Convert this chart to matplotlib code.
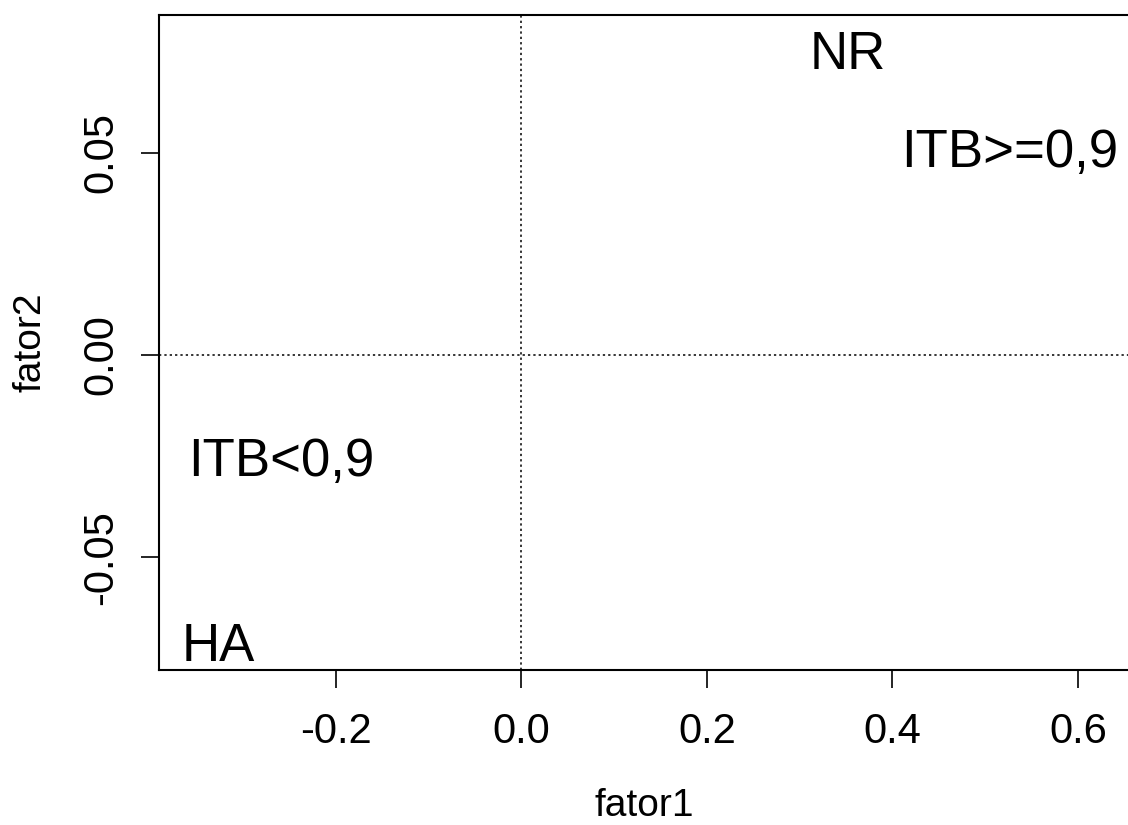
import matplotlib
matplotlib.use('Agg')
import matplotlib.pyplot as plt

# Coordenadas das categorias (fator1, fator2)
rotulos = ['NR', 'ITB>=0,9', 'ITB<0,9', 'HA']
fator1 = [0.352, 0.526, -0.259, -0.327]
fator2 = [0.0753, 0.0511, -0.0252, -0.0709]

xticks = [-0.2, 0.0, 0.2, 0.4, 0.6]
yticks = [-0.05, 0.00, 0.05]

plt.rcParams['font.family'] = ['Liberation Sans', 'DejaVu Sans']

fig = plt.figure(figsize=(11.28, 8.25), dpi=100)
W, H = 1128, 825
# area do grafico em pixels (a borda direita fica fora da imagem)
x0, x1, y0, y1 = 159, 1130, 15, 670
ax = fig.add_axes([x0 / W, 1 - y1 / H, (x1 - x0) / W, (y1 - y0) / H])

ax.set_xlim(-0.3905, 0.656)
ax.set_ylim(-0.0778, 0.0840)

ax.axhline(0, color='black', linestyle=(0, (1.5, 2.0)), linewidth=1.1)
ax.axvline(0, color='black', linestyle=(0, (1.5, 2.0)), linewidth=1.1)

for r, fx, fy in zip(rotulos, fator1, fator2):
    ax.annotate(r, (fx, fy), xytext=(0, -13.5), textcoords='offset points',
                ha='center', va='baseline', fontsize=38)

ax.set_xticks(xticks)
ax.set_xticklabels(['%.1f' % v for v in xticks])
ax.set_yticks(yticks)
ax.set_yticklabels(['%.2f' % v for v in yticks], rotation=90, va='center')
ax.tick_params(axis='both', length=13, width=1.2, labelsize=30, direction='out')
ax.tick_params(axis='x', pad=17)
ax.tick_params(axis='y', pad=14)

for s in ax.spines.values():
    s.set_linewidth(1.5)

ax.set_xlabel('fator1', fontsize=28, labelpad=26)
ax.set_ylabel('fator2', fontsize=28, labelpad=24)

fig.savefig('out.png', dpi=100)
